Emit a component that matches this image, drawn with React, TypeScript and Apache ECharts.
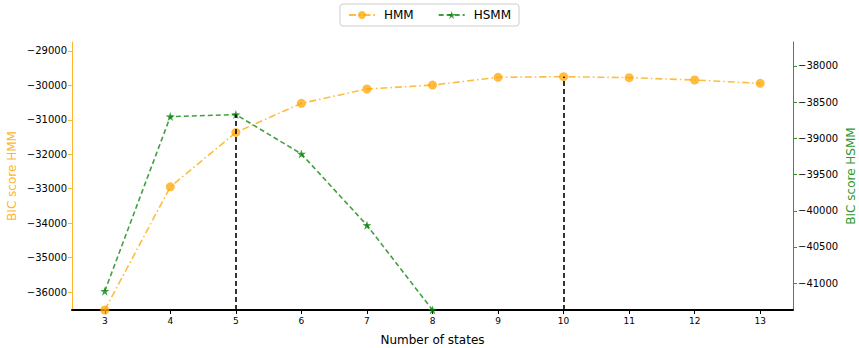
import React, { useEffect, useRef } from "react";
import * as echarts from "echarts";

const states = [3, 4, 5, 6, 7, 8, 9, 10, 11, 12, 13];
const hmmScores = [-36520, -32945, -31365, -30520, -30105, -29990, -29765, -29747, -29775, -29843, -29940];
const hsmmScores = [-41110, -38700, -38672, -39215, -40200, -41370, null, null, null, null, null];
const hmmTicks = [-36000, -35000, -34000, -33000, -32000, -31000, -30000, -29000];
const hsmmTicks = [-41000, -40500, -40000, -39500, -39000, -38500, -38000];
const xTicks = [3, 4, 5, 6, 7, 8, 9, 10, 11, 12, 13];

const ORANGE = "rgba(255,165,0,0.75)";
const ORANGE_AXIS = "#FFB52E";
const GREEN = "rgba(0,128,0,0.75)";
const GREEN_AXIS = "#2E9A2E";
const FONT = "DejaVu Sans";

const fmt = (v: number) => String(v).replace("-", "\u2212");

export default function App() {
  const ref = useRef<HTMLDivElement>(null);
  useEffect(() => {
    if (!ref.current) return;
    const chart = echarts.init(ref.current, null, { renderer: "svg" });
    const hmmData = states.map((s, i) => [s, hmmScores[i]]);
    const hsmmData = states.map((s, i) => [s, hsmmScores[i]]).filter((d) => d[1] !== null);
    const hmmMin = -36520, hmmMax = -28740;
    const hsmmMin = -41370, hsmmMax = -37670;
    const hmmBest = Math.max(...hmmScores);
    const hmmBestX = states[hmmScores.indexOf(hmmBest)];
    const hsVals = hsmmScores.filter((v) => v !== null) as number[];
    const hsBest = Math.max(...hsVals);
    const hsBestX = states[hsmmScores.indexOf(hsBest)];
    chart.setOption({
      animation: false,
      textStyle: { fontFamily: FONT },
      legend: {
        top: 4,
        left: "center",
        itemGap: 24,
        borderColor: "#cccccc",
        borderWidth: 1,
        borderRadius: 3,
        padding: [5, 8, 5, 8],
        itemWidth: 26,
        itemHeight: 10,
        textStyle: { fontFamily: FONT, fontSize: 12, color: "#000", padding: [0, 0, 0, 4] },
        data: ["HMM", "HSMM"],
      },
      grid: { left: 72, right: 66, top: 42, bottom: 38, outerBoundsMode: "none", containLabel: false },
      xAxis: {
        type: "value",
        min: 2.5,
        max: 13.5,
        name: "Number of states",
        nameLocation: "middle",
        nameGap: 24,
        nameMoveOverlap: false,
        nameTextStyle: { fontFamily: FONT, fontSize: 12, color: "#000" },
        axisLine: { lineStyle: { color: "#000", width: 2 } },
        axisTick: { show: true, customValues: xTicks, length: 4, lineStyle: { color: "#000" } },
        axisLabel: { customValues: xTicks, fontSize: 9, color: "#000", fontFamily: FONT, margin: 6 },
        splitLine: { show: false },
      },
      yAxis: [
        {
          type: "value",
          position: "left",
          min: hmmMin,
          max: hmmMax,
          name: "BIC score HMM",
          nameLocation: "middle",
          nameGap: 54,
          nameMoveOverlap: false,
          nameTextStyle: { color: ORANGE_AXIS, fontSize: 12, fontFamily: FONT },
          axisLine: { show: true, lineStyle: { color: ORANGE_AXIS, width: 1 } },
          axisTick: { show: true, customValues: hmmTicks, length: 4, lineStyle: { color: ORANGE_AXIS } },
          axisLabel: { customValues: hmmTicks, formatter: fmt, color: "#000", fontSize: 10, fontFamily: FONT, margin: 5 },
          splitLine: { show: false },
        },
        {
          type: "value",
          position: "right",
          min: hsmmMin,
          max: hsmmMax,
          name: "BIC score HSMM",
          nameLocation: "middle",
          nameGap: 52,
          nameMoveOverlap: false,
          nameRotate: 90,
          nameTextStyle: { color: GREEN_AXIS, fontSize: 12, fontFamily: FONT },
          axisLine: { show: true, lineStyle: { color: GREEN_AXIS, width: 1 } },
          axisTick: { show: true, customValues: hsmmTicks, length: 4, lineStyle: { color: GREEN_AXIS } },
          axisLabel: { customValues: hsmmTicks, formatter: fmt, color: "#000", fontSize: 10, fontFamily: FONT, margin: 5 },
          splitLine: { show: false },
        },
      ],
      series: [
        {
          name: "HMM",
          type: "line",
          yAxisIndex: 0,
          data: hmmData,
          symbol: "circle",
          symbolSize: 9,
          clip: true,
          itemStyle: { color: ORANGE },
          lineStyle: { color: ORANGE, width: 1.6, type: [7, 3, 1.5, 3] },
          markLine: {
            silent: true,
            symbol: ["none", "none"],
            label: { show: false },
            lineStyle: { color: "#000", type: [5, 3], width: 1.6 },
            data: [[{ coord: [hmmBestX, hmmMin] }, { coord: [hmmBestX, hmmBest] }]],
          },
          z: 3,
        },
        {
          name: "HSMM",
          type: "line",
          yAxisIndex: 1,
          data: hsmmData,
          symbol: "path://M50,0 L61.8,36.2 L100,38.2 L69.1,61.8 L80.9,100 L50,76.4 L19.1,100 L30.9,61.8 L0,38.2 L38.2,36.2 Z",
          symbolSize: 9,
          clip: true,
          itemStyle: { color: GREEN },
          lineStyle: { color: GREEN, width: 1.6, type: [5, 3] },
          markLine: {
            silent: true,
            symbol: ["none", "none"],
            label: { show: false },
            lineStyle: { color: "#000", type: [5, 3], width: 1.6 },
            data: [[{ coord: [hsBestX, hsmmMin] }, { coord: [hsBestX, hsBest] }]],
          },
          z: 4,
        },
      ],
    });
    return () => chart.dispose();
  }, []);
  return <div ref={ref} style={{ width: 859, height: 348, position: "absolute", left: 0, top: 0 }} />;
}
